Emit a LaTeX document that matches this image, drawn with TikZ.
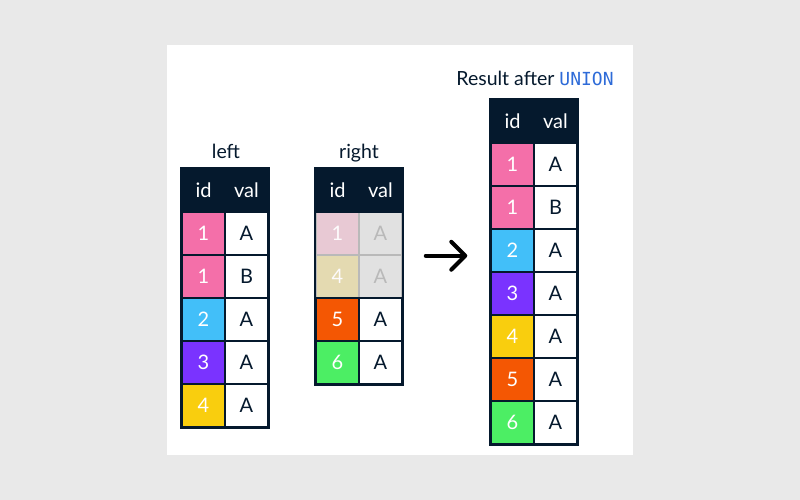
\documentclass[tikz,border=0pt]{standalone}
\usepackage{fontspec}
\setmainfont{Lato}
\newfontfamily\codefont{DejaVu Sans Mono}
\usetikzlibrary{arrows.meta}
\definecolor{dcnavy}{HTML}{05192D}
\definecolor{dcpink}{HTML}{F46FA9}
\definecolor{dcblue}{HTML}{42BFF9}
\definecolor{dcpurple}{HTML}{7A33FF}
\definecolor{dcyellow}{HTML}{F9CE0E}
\definecolor{dcorange}{HTML}{F45703}
\definecolor{dcgreen}{HTML}{4CEE64}
\definecolor{dccode}{HTML}{2E6BD8}
\definecolor{pagegray}{HTML}{E9E9E9}
\definecolor{fadepink}{HTML}{E8C9D4}
\definecolor{fadeyellow}{HTML}{E4DAB1}
\definecolor{fadeval}{HTML}{E1E1E1}
\definecolor{fadeline}{HTML}{B9B9B9}
\tikzset{
    cell/.style = {draw=dcnavy, line width=1.5pt, minimum width=43pt, minimum height=43pt, inner sep=0pt, font=\fontsize{20}{24}\selectfont},
    idcell/.style = {cell, text=white},
    valcell/.style = {cell, fill=white, text=dcnavy},
    headcell/.style = {cell, fill=dcnavy, text=white},
    fadedid/.style = {cell, draw=fadeline, text=white!92!fadepink},
    fadedval/.style = {cell, draw=fadeline, fill=fadeval, text=fadeline},
    tabletitle/.style = {anchor=base, font=\fontsize{19.5}{23}\selectfont, text=dcnavy},
    tableframe/.style = {draw=dcnavy, line width=2pt},
    flow/.style = {line width=4pt, line cap=round, -{Straight Barb[round, length=14pt, width=28pt]}},
}

\begin{document}
\begin{tikzpicture}[x=1pt, y=-1pt]
            \fill[pagegray] (0, 0) rectangle (800, 500);
            \fill[white] (167, 45) rectangle (633, 455);

            % left
            \node[tabletitle] (left title) at (226, 158) {left};
            \node[headcell] (L0id) at (203.5, 190.5) {id};
            \node[headcell] (L0val) at (246.5, 190.5) {val};
            \node[idcell, fill=dcpink] (L1id) at (203.5, 233.5) {1};
            \node[valcell] (L1val) at (246.5, 233.5) {A};
            \node[idcell, fill=dcpink] (L2id) at (203.5, 276.5) {1};
            \node[valcell] (L2val) at (246.5, 276.5) {B};
            \node[idcell, fill=dcblue] (L3id) at (203.5, 319.5) {2};
            \node[valcell] (L3val) at (246.5, 319.5) {A};
            \node[idcell, fill=dcpurple] (L4id) at (203.5, 362.5) {3};
            \node[valcell] (L4val) at (246.5, 362.5) {A};
            \node[idcell, fill=dcyellow] (L5id) at (203.5, 405.5) {4};
            \node[valcell] (L5val) at (246.5, 405.5) {A};
            \draw[tableframe] (L0id.north west) rectangle (L5val.south east);

            % right
            \node[tabletitle] (right title) at (359, 158) {right};
            \node[fadedid, fill=fadepink] (R1id) at (337.5, 233.5) {1};
            \node[fadedval] (R1val) at (380.5, 233.5) {A};
            \node[fadedid, fill=fadeyellow] (R2id) at (337.5, 276.5) {4};
            \node[fadedval] (R2val) at (380.5, 276.5) {A};
            \node[headcell] (R0id) at (337.5, 190.5) {id};
            \node[headcell] (R0val) at (380.5, 190.5) {val};
            \node[idcell, fill=dcorange] (R3id) at (337.5, 319.5) {5};
            \node[valcell] (R3val) at (380.5, 319.5) {A};
            \node[idcell, fill=dcgreen] (R4id) at (337.5, 362.5) {6};
            \node[valcell] (R4val) at (380.5, 362.5) {A};
            \draw[tableframe] (R0id.north west) rectangle (R4val.south east);

            % result
            \node[tabletitle] (result title) at (535, 86) {Result after {\codefont\fontsize{18}{22}\selectfont\color{dccode}UNION}};
            \node[headcell] (S0id) at (512.5, 121.5) {id};
            \node[headcell] (S0val) at (555.5, 121.5) {val};
            \node[idcell, fill=dcpink] (S1id) at (512.5, 164.5) {1};
            \node[valcell] (S1val) at (555.5, 164.5) {A};
            \node[idcell, fill=dcpink] (S2id) at (512.5, 207.5) {1};
            \node[valcell] (S2val) at (555.5, 207.5) {B};
            \node[idcell, fill=dcblue] (S3id) at (512.5, 250.5) {2};
            \node[valcell] (S3val) at (555.5, 250.5) {A};
            \node[idcell, fill=dcpurple] (S4id) at (512.5, 293.5) {3};
            \node[valcell] (S4val) at (555.5, 293.5) {A};
            \node[idcell, fill=dcyellow] (S5id) at (512.5, 336.5) {4};
            \node[valcell] (S5val) at (555.5, 336.5) {A};
            \node[idcell, fill=dcorange] (S6id) at (512.5, 379.5) {5};
            \node[valcell] (S6val) at (555.5, 379.5) {A};
            \node[idcell, fill=dcgreen] (S7id) at (512.5, 422.5) {6};
            \node[valcell] (S7val) at (555.5, 422.5) {A};
            \draw[tableframe] (S0id.north west) rectangle (S7val.south east);

            \coordinate (arrow tail) at ([xshift=23pt]R1val.south east);
            \coordinate (arrow tip) at ([xshift=-23pt]S0id.west |- R1val.south);
            \draw[flow] (arrow tail) -- (arrow tip);
\end{tikzpicture}
\end{document}
